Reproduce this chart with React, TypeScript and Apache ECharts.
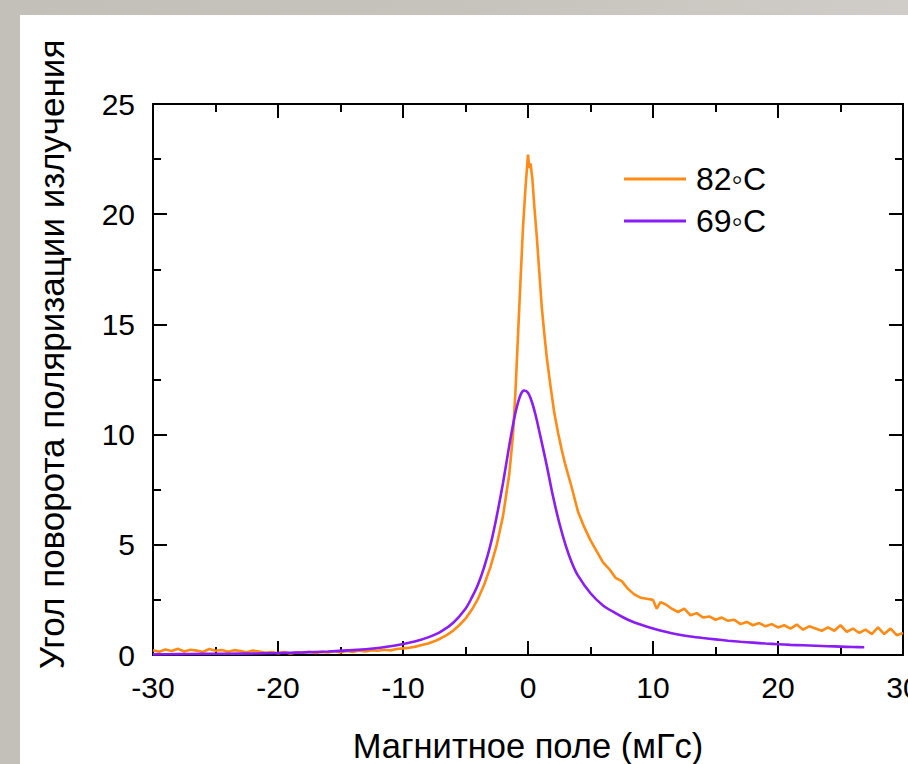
import React, { useEffect, useRef } from "react";
import * as echarts from "echarts";

const seriesNames = ["82◦C", "69◦C"];
const seriesColors = ["#ff8a14", "#8a1cf5"];

const xTitle = "Магнитное поле (мГс)";
const yTitle = "Угол поворота поляризации излучения";

// 82°C (orange, noisy)
const orangeX = [
  -30, -29.5, -29, -28.5, -28, -27.5, -27, -26.5, -26, -25.5, -25, -24.5, -24, -23.5, -23, -22.5,
  -22, -21.5, -21, -20.5, -20, -19.5, -19, -18.5, -18, -17.5, -17, -16.5, -16, -15.5, -15, -14.5,
  -14, -13.5, -13, -12.5, -12, -11.5, -11, -10.5, -10, -9.5, -9, -8.5, -8, -7.5, -7, -6.5, -6,
  -5.5, -5, -4.5, -4, -3.5, -3, -2.5, -2, -1.5, -1.2, -1, -0.8, -0.6, -0.4, -0.2, 0, 0.1, 0.2,
  0.35, 0.5, 0.7, 0.9, 1.1, 1.3, 1.5, 1.8, 2.1, 2.4, 2.7, 3, 3.5, 4, 4.5, 5, 5.5, 6, 6.5, 7, 7.5,
  8, 8.5, 9, 9.5, 10, 10.3, 10.6, 11, 11.5, 12, 12.5, 13, 13.5, 14, 14.5, 15, 15.5, 16, 16.5, 17,
  17.5, 18, 18.5, 19, 19.5, 20, 20.5, 21, 21.5, 22, 22.5, 23, 23.5, 24, 24.5, 25, 25.5, 26, 26.5,
  27, 27.5, 28, 28.5, 29, 29.5, 30,
];
const orangeY = [
  0.22, 0.15, 0.25, 0.18, 0.28, 0.16, 0.24, 0.2, 0.14, 0.27, 0.19, 0.23, 0.15, 0.22, 0.18, 0.12,
  0.2, 0.16, 0.1, 0.14, 0.08, 0.13, 0.07, 0.12, 0.1, 0.15, 0.09, 0.14, 0.11, 0.17, 0.12, 0.18,
  0.14, 0.2, 0.16, 0.22, 0.19, 0.24, 0.21, 0.27, 0.3, 0.33, 0.38, 0.45, 0.52, 0.62, 0.75, 0.9, 1.1,
  1.35, 1.65, 2.05, 2.55, 3.2, 4.0, 5.0, 6.3, 8.2, 10.0, 12.0, 14.5, 17.0, 19.4, 21.2, 22.7, 22.1, 22.3,
  21.6, 20.4, 19.0, 17.4, 15.8, 14.6, 13.5, 12.2, 11.0, 10.1, 9.3, 8.6, 7.6, 6.5, 5.8, 5.2, 4.7, 4.2, 3.9, 3.5, 3.35,
  3.0, 2.75, 2.6, 2.55, 2.5, 2.1, 2.4, 2.3, 2.1, 1.95, 2.1, 1.8, 1.9, 1.7, 1.75, 1.6, 1.7, 1.55, 1.6, 1.4,
  1.5, 1.35, 1.45, 1.3, 1.4, 1.25, 1.35, 1.2, 1.38, 1.15, 1.3, 1.2, 1.1, 1.25, 1.1, 1.35, 1.05, 1.2, 1.0,
  1.15, 0.95, 1.25, 0.95, 1.2, 0.9, 1.0,
];

// 69°C (purple, smooth)
const purpleX = [
  -30, -28, -26, -24, -22, -20, -18, -16, -14, -12, -11, -10, -9, -8, -7, -6, -5, -4.5, -4, -3.5,
  -3, -2.5, -2, -1.5, -1, -0.6, -0.3, 0, 0.3, 0.6, 1, 1.5, 2, 2.5, 3, 3.5, 4, 5, 6, 7, 8, 9, 10, 11,
  12, 13, 14, 15, 16, 17, 18, 19, 20, 21, 22, 23, 24, 25, 26, 26.9,
];
const purpleY = [
  0.03, 0.04, 0.05, 0.06, 0.07, 0.09, 0.12, 0.16, 0.22, 0.32, 0.4, 0.5, 0.62, 0.8, 1.05, 1.45, 2.1,
  2.6, 3.2, 4.0, 5.0, 6.3, 7.8, 9.5, 11.0, 11.8, 12.0, 11.9, 11.5, 10.9, 9.9, 8.6, 7.2, 6.0, 5.0, 4.2,
  3.6, 2.8, 2.25, 1.9, 1.6, 1.38, 1.2, 1.05, 0.93, 0.84, 0.77, 0.71, 0.65, 0.6, 0.56, 0.52, 0.49,
  0.46, 0.44, 0.42, 0.4, 0.38, 0.36, 0.35,
];

const xMin = -30, xMax = 30, xStep = 10;
const yMin = 0, yMax = 25, yStep = 5;

const FONT = "'Liberation Sans', Arial, sans-serif";

function zip(xs: number[], ys: number[]) {
  return xs.map((x, i) => [x, ys[i]]);
}

export default function App() {
  const ref = useRef<HTMLDivElement>(null);
  useEffect(() => {
    if (!ref.current) return;
    const chart = echarts.init(ref.current, null, { renderer: "svg", width: 908, height: 764 });
    const lineStyle = { color: "#000", width: 2 };
    const baseX = {
      type: "value" as const,
      min: xMin,
      max: xMax,
      interval: xStep,
      splitLine: { show: false },
      axisLine: { show: true, onZero: false, lineStyle },
      axisTick: { show: true, inside: true, length: 14, lineStyle },
      minorTick: { show: true, splitNumber: 2, length: 8, lineStyle },
    };
    const baseY = {
      type: "value" as const,
      min: yMin,
      max: yMax,
      interval: yStep,
      splitLine: { show: false },
      axisLine: { show: true, onZero: false, lineStyle },
      axisTick: { show: true, inside: true, length: 14, lineStyle },
      minorTick: { show: true, splitNumber: 2, length: 8, lineStyle },
    };
    chart.setOption({
      animation: false,
      graphic: [
        {
          type: "rect",
          z: -100,
          silent: true,
          shape: { x: 20, y: 15, width: 900, height: 760 },
          style: { fill: "#ffffff" },
        },
      ],
      grid: {
        left: 153,
        width: 750,
        top: 104,
        height: 551,
        containLabel: false,
        outerBoundsMode: "none",
      },
      legend: {
        orient: "vertical",
        left: 624,
        top: 163,
        padding: 0,
        itemWidth: 62,
        itemHeight: 3,
        itemGap: 10,
        icon: "rect",
        data: seriesNames,
        textStyle: { fontSize: 32, lineHeight: 30, color: "#000", fontFamily: FONT, padding: [0, 0, 0, 5] },
      },
      xAxis: [
        {
          ...baseX,
          position: "bottom",
          axisLabel: { fontSize: 30, color: "#000", margin: 17, fontFamily: FONT },
          name: xTitle,
          nameLocation: "middle",
          nameGap: 73,
          nameTextStyle: { fontSize: 34.5, color: "#000", fontFamily: FONT },
        },
        { ...baseX, position: "top", axisLabel: { show: false } },
      ],
      yAxis: [
        {
          ...baseY,
          position: "left",
          axisLabel: { fontSize: 30, color: "#000", margin: 18, fontFamily: FONT },
          name: yTitle,
          nameLocation: "middle",
          nameGap: 84,
          nameTextStyle: { fontSize: 35, color: "#000", fontFamily: FONT, padding: [0, 0, 0, 50] },
        },
        { ...baseY, position: "right", axisLabel: { show: false } },
      ],
      series: [
        {
          name: seriesNames[0],
          type: "line",
          xAxisIndex: 0,
          yAxisIndex: 0,
          showSymbol: false,
          data: zip(orangeX, orangeY),
          itemStyle: { color: seriesColors[0] },
          lineStyle: { color: seriesColors[0], width: 2.6 },
        },
        {
          name: seriesNames[1],
          type: "line",
          xAxisIndex: 0,
          yAxisIndex: 0,
          showSymbol: false,
          smooth: 0.3,
          data: zip(purpleX, purpleY),
          itemStyle: { color: seriesColors[1] },
          lineStyle: { color: seriesColors[1], width: 2.6 },
        },
      ],
    });
    return () => chart.dispose();
  }, []);
  return (
    <div
      style={{
        position: "fixed",
        left: 0,
        top: 0,
        width: 908,
        height: 764,
        overflow: "hidden",
        background: "linear-gradient(90deg, #c3c0ba 0%, #c6c3bd 50%, #d0cdc8 100%)",
      }}
    >
      <div ref={ref} style={{ position: "absolute", left: 0, top: 0, width: 908, height: 764 }} />
    </div>
  );
}
